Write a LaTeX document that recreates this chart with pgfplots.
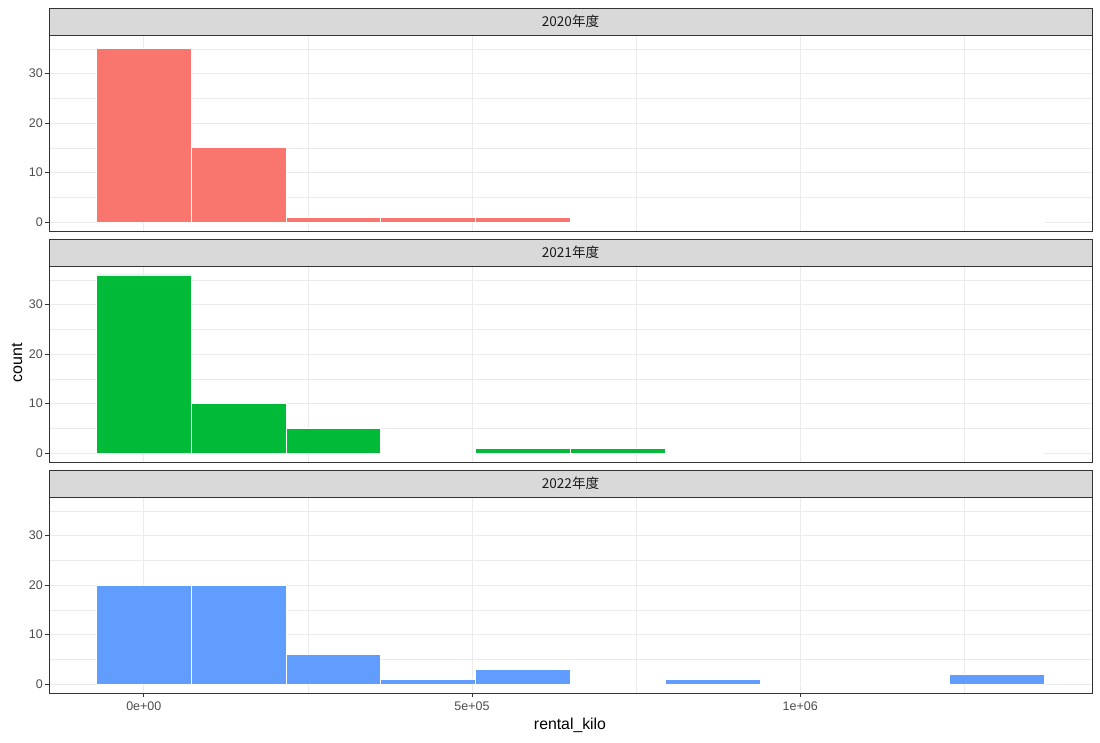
\documentclass[border=0pt]{standalone}
\usepackage{pgfplots}
\pgfplotsset{compat=1.18}
\usepackage{fontspec}
\setmainfont{Liberation Sans}
\newfontfamily\cjk{Noto Sans CJK SC}
\definecolor{c1}{HTML}{F8766D}
\definecolor{c2}{HTML}{00BA38}
\definecolor{c3}{HTML}{619CFF}
\definecolor{gridc}{HTML}{EBEBEB}
\definecolor{g20}{HTML}{333333}
\definecolor{g30}{HTML}{4D4D4D}
\definecolor{g10}{HTML}{1A1A1A}
\definecolor{stripc}{HTML}{D9D9D9}

% bin centers (width 144444.44), counts
\pgfplotstableread{
x        y
0        35
144444.4 15
288888.9 1
433333.3 1
577777.8 1
722222.2 0
866666.7 0
1011111.1 0
1155555.6 0
1300000  0
}\tabA
\pgfplotstableread{
x        y
0        36
144444.4 10
288888.9 5
433333.3 0
577777.8 1
722222.2 1
866666.7 0
1011111.1 0
1155555.6 0
1300000  0
}\tabB
\pgfplotstableread{
x        y
0        20
144444.4 20
288888.9 6
433333.3 1
577777.8 3
722222.2 0
866666.7 1
1011111.1 0
1155555.6 0
1300000  2
}\tabC

\pgfplotsset{panel/.style={
  scale only axis, width=1043pt, height=196pt,
  xmin=-144444.44, xmax=1444444.44, ymin=-1.8, ymax=37.8,
  xtick={0,500000,1000000}, minor xtick={250000,750000,1250000},
  ytick={0,10,20,30}, minor ytick={5,15,25,35},
  yticklabels={0,10,20,30},
  grid=both,
  major grid style={gridc, line width=1pt},
  minor grid style={gridc, line width=0.6pt},
  axis line style={g20, line width=1pt},
  tick style={g20, line width=1pt},
  tick align=outside, major tick length=3.7pt, minor tick length=0pt,
  xtick pos=bottom, ytick pos=left,
  ticklabel style={font=\fontsize{12.5}{14}\selectfont, text=g30},
  yticklabel style={xshift=1pt},
  xticklabel style={yshift=-1.5pt},
  scaled x ticks=false,
  clip=false,
}}
\pgfplotsset{histbar/.style={ybar, bar width=144444.44, bar shift=0pt, draw=white, line width=0.8pt}}

\begin{document}
\begin{tikzpicture}
\useasboundingbox (0,0) rectangle (1100pt,-742pt);

\begin{axis}[panel, at={(49pt,-35pt)}, anchor=north west,
  xticklabels={}, x tick style={draw=none}]
\addplot[histbar, fill=c1] table[x=x,y=y] {\tabA};
\end{axis}

\begin{axis}[panel, at={(49pt,-266pt)}, anchor=north west,
  xticklabels={}, x tick style={draw=none}]
\addplot[histbar, fill=c2] table[x=x,y=y] {\tabB};
\end{axis}

\begin{axis}[panel, at={(49pt,-497pt)}, anchor=north west,
  xticklabels={0e+00,5e+05,1e+06}]
\addplot[histbar, fill=c3] table[x=x,y=y] {\tabC};
\end{axis}

% facet strips
\foreach \top/\lab in {8/2020, 239/2021, 470/2022}{
  \draw[fill=stripc, draw=g20, line width=1pt] (49pt,-\top pt) rectangle (1092pt,-\top pt-27pt);
  \node[text=g10, font=\cjk\fontsize{13.6}{15}\selectfont] at (570.5pt,-\top pt-13.5pt) {\lab 年度};
}

\node[rotate=90, font=\fontsize{16}{18}\selectfont, text=black] at (17pt,-363pt) {count};
\node[font=\fontsize{15.8}{18}\selectfont, text=black] at (570pt,-725pt) {rental\_kilo};
\end{tikzpicture}
\end{document}
